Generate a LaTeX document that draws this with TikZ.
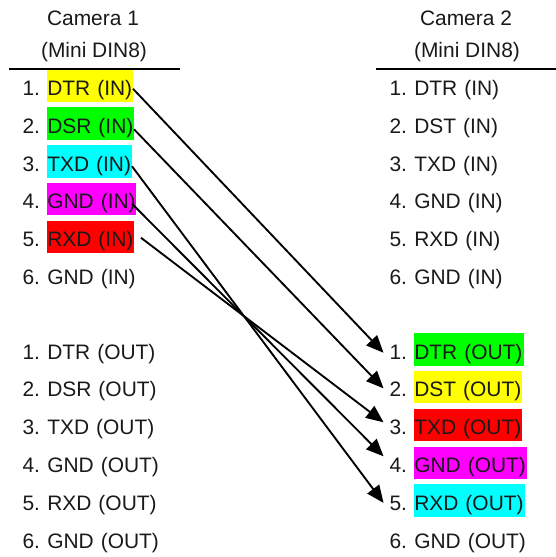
\documentclass[tikz,border=0pt]{standalone}
\usepackage{fontspec}
\setmainfont{Liberation Sans}
\usetikzlibrary{arrows.meta,calc}
\definecolor{hlyellow}{RGB}{255,255,0}
\definecolor{hlgreen}{RGB}{0,255,0}
\definecolor{hlcyan}{RGB}{0,255,255}
\definecolor{hlmagenta}{RGB}{255,0,255}
\definecolor{hlred}{RGB}{255,0,0}
\newcommand{\pintext}[1]{\mbox{#1}}
\tikzset{
  every node/.style={font=\fontsize{15.7pt}{18pt}\selectfont,inner sep=0pt,outer sep=0pt,text=black!90},
  title/.style={anchor=base},
  num/.style={anchor=base east},
  pin/.style={anchor=base west,text height=19.5pt,text depth=4.9pt,align=left,text width=#1*0.75pt-0.5pt,inner xsep=0.25pt},
  rule/.style={line width=1.5pt},
  wire/.style={line width=1.4pt,-{Triangle[length=13pt,width=11pt]}}
}
\begin{document}
\begin{tikzpicture}[x=0.75pt,y=-0.75pt]
\useasboundingbox (0,0) rectangle (556,557);
% titles
\node[title] (t1) at (93,25) {Camera 1};
\node[title] (t1b) at (94,57) {(Mini DIN8)};
\node[title] (t2) at (466,25) {Camera 2};
\node[title] (t2b) at (467,57) {(Mini DIN8)};
\coordinate (ra) at (9,69); \coordinate (rb) at (180,69);
\coordinate (rc) at (376,69); \coordinate (rd) at (556,69);
\draw[rule] (ra) -- (rb);
\draw[rule] (rc) -- (rd);
% left, IN
\node[pin=86,fill=hlyellow] (l1) at (47,95.5) {\pintext{DTR (IN)}};
\node[pin=87,fill=hlgreen] (l2) at (47,133) {\pintext{DSR (IN)}};
\node[pin=85,fill=hlcyan] (l3) at (47,171) {\pintext{TXD (IN)}};
\node[pin=89,fill=hlmagenta] (l4) at (47,208.5) {\pintext{GND (IN)}};
\node[pin=87,fill=hlred] (l5) at (47,246.5) {\pintext{RXD (IN)}};
\node[pin=89] (l6) at (47,284) {\pintext{GND (IN)}};
\node[num] (ln1) at (40,95.5) {1.};
\node[num] (ln2) at (40,133) {2.};
\node[num] (ln3) at (40,171) {3.};
\node[num] (ln4) at (40,208.5) {4.};
\node[num] (ln5) at (40,246.5) {5.};
\node[num] (ln6) at (40,284) {6.};
% left, OUT
\node[pin=115] (lo1) at (47,359) {\pintext{DTR (OUT)}};
\node[pin=115] (lo2) at (47,396.7) {\pintext{DSR (OUT)}};
\node[pin=115] (lo3) at (47,434.5) {\pintext{TXD (OUT)}};
\node[pin=115] (lo4) at (47,472.5) {\pintext{GND (OUT)}};
\node[pin=115] (lo5) at (47,510) {\pintext{RXD (OUT)}};
\node[pin=115] (lo6) at (47,548) {\pintext{GND (OUT)}};
\node[num] (lon1) at (40,359) {1.};
\node[num] (lon2) at (40,396.7) {2.};
\node[num] (lon3) at (40,434.5) {3.};
\node[num] (lon4) at (40,472.5) {4.};
\node[num] (lon5) at (40,510) {5.};
\node[num] (lon6) at (40,548) {6.};
% right, IN
\node[pin=89] (r1) at (414,95.5) {\pintext{DTR (IN)}};
\node[pin=89] (r2) at (414,133) {\pintext{DST (IN)}};
\node[pin=89] (r3) at (414,171) {\pintext{TXD (IN)}};
\node[pin=89] (r4) at (414,208.5) {\pintext{GND (IN)}};
\node[pin=89] (r5) at (414,246.5) {\pintext{RXD (IN)}};
\node[pin=89] (r6) at (414,284) {\pintext{GND (IN)}};
\node[num] (rn1) at (407,95.5) {1.};
\node[num] (rn2) at (407,133) {2.};
\node[num] (rn3) at (407,171) {3.};
\node[num] (rn4) at (407,208.5) {4.};
\node[num] (rn5) at (407,246.5) {5.};
\node[num] (rn6) at (407,284) {6.};
% right, OUT
\node[pin=110,fill=hlgreen] (ro1) at (414,359) {\pintext{DTR (OUT)}};
\node[pin=108,fill=hlyellow] (ro2) at (414,396.7) {\pintext{DST (OUT)}};
\node[pin=108,fill=hlred] (ro3) at (414,434.5) {\pintext{TXD (OUT)}};
\node[pin=113,fill=hlmagenta] (ro4) at (414,472.5) {\pintext{GND (OUT)}};
\node[pin=111,fill=hlcyan] (ro5) at (414,510) {\pintext{RXD (OUT)}};
\node[pin=113] (ro6) at (414,548) {\pintext{GND (OUT)}};
\node[num] (ron1) at (407,359) {1.};
\node[num] (ron2) at (407,396.7) {2.};
\node[num] (ron3) at (407,434.5) {3.};
\node[num] (ron4) at (407,472.5) {4.};
\node[num] (ron5) at (407,510) {5.};
\node[num] (ron6) at (407,548) {6.};
% connectors
\draw[wire] ($(l1.east)+(0,3)$) -- ($(ron1.west)+(-6,1)$);
\draw[wire] ($(l2.east)+(0,6)$) -- ($(ron2.west)+(-6,-1)$);
\draw[wire] ($(l3.east)+(0,5)$) -- ($(ron5.west)+(-6,0)$);
\draw[wire] ($(l4.east)+(-4,5)$) -- ($(ron4.west)+(-6,-9)$);
\draw[wire] ($(l5.east)+(7,1)$) -- ($(ron3.west)+(-6,-5)$);
\end{tikzpicture}
\end{document}
